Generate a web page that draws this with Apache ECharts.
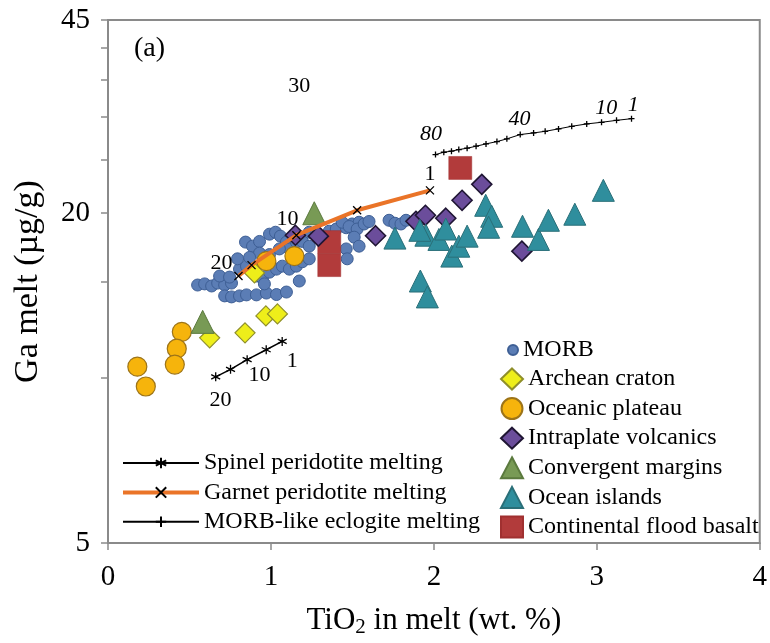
<!DOCTYPE html>
<html><head><meta charset="utf-8">
<script src="https://cdn.jsdelivr.net/npm/echarts@6/dist/echarts.min.js"></script>
<style>html,body{margin:0;padding:0;background:#fff}#c{width:770px;height:643px}</style>
</head><body><div id="c"></div>
<script>
const xTicks = [0, 1, 2, 3, 4];
const yTicks = [5, 10, 15, 20, 25, 30, 35, 40, 45];
const yLabels = [5, 20, 45];

const morb = [
  [0.550,14.78],[0.593,14.85],[0.636,14.72],[0.673,14.9],[0.716,14.78],[0.758,14.9],
  [0.685,15.35],[0.746,15.28],[0.716,14.12],[0.758,14.06],[0.807,14.12],[0.850,14.18],
  [0.911,14.18],[0.972,14.29],[1.034,14.2],[1.095,14.35],[0.844,17.7],[0.887,17.4],
  [0.930,17.75],[0.991,18.3],[1.028,18.45],[1.058,18.15],[1.095,17.7],[1.113,17.2],
  [1.156,17.7],[1.193,17.75],[1.235,17.4],[1.235,18.45],[1.278,18.45],[1.315,18.07],
  [1.358,18.53],[1.401,18.7],[0.807,15.8],[0.850,16.0],[0.911,15.35],[0.948,15.2],
  [0.991,15.6],[1.034,15.8],[1.070,16.0],[1.113,15.8],[1.156,16.0],[1.193,16.3],
  [1.235,16.5],[1.462,18.8],[1.498,19.1],[1.541,19.24],[1.437,19.24],[1.480,18.9],
  [1.529,18.7],[1.511,18.07],[1.541,17.4],[1.462,17.2],[1.468,16.5],[1.725,19.4],
  [1.761,19.16],[1.798,19.1],[1.829,19.4],[1.572,19.1],[1.602,19.3],[0.930,16.9],
  [0.991,16.8],[1.052,17.2],[0.960,14.85],[1.174,15.03],[0.795,16.5],[0.869,16.6]
];
const archean = [[0.899,15.55],[0.624,11.84],[0.841,12.09],[0.969,12.98],[1.040,13.09]];
const plateau = [[0.180,10.49],[0.232,9.65],[0.453,12.14],[0.422,11.31],[0.410,10.58],[0.972,16.34],[1.144,16.69]];
const intraplate = [[1.150,18.22],[1.291,18.15],[1.642,18.18],[1.890,19.32],[1.948,19.81],[2.073,19.57],[2.173,21.1],[2.294,22.56],[2.540,17.04]];
const convergent = [[1.266,19.98],[0.581,12.66]];
const oceanIslands = [
  [1.761,18.0],[1.917,15.03],[1.960,14.06],[1.951,18.22],[2.031,17.9],[2.073,18.7],
  [2.110,16.69],[2.153,17.4],[2.204,18.15],[2.318,20.66],[2.355,19.73],[2.336,18.84],
  [2.544,18.92],[2.642,17.9],[2.703,19.4],[2.865,19.9],[3.040,22.0],[1.914,18.6]
];
const cfb = [[1.358,17.7],[1.358,16.07],[2.162,24.17]];

const spinel = [[0.661,10.05],[0.752,10.37],[0.854,10.8],[0.971,11.26],[1.069,11.66]];
const garnet = [[0.801,15.35],[0.881,16.07],[1.156,18.22],[1.529,20.23],[1.976,22.0]];
const eclogite = [
  [2.010,25.57],[2.061,25.82],[2.108,25.93],[2.153,26.11],[2.204,26.26],[2.259,26.48],
  [2.320,26.74],[2.387,27.0],[2.448,27.31],[2.530,27.81],[2.612,28.0],[2.683,28.19],
  [2.765,28.48],[2.846,28.79],[2.938,29.08],[3.029,29.28],[3.121,29.52],[3.213,29.73]
];

const uprightNotes = [[0.691,9.1,'20'],[0.930,10.1,'10'],[1.131,10.75,'1'],
  [0.697,16.2,'20'],[1.101,19.5,'10'],[1.976,23.5,'1'],[1.174,34.1,'30']];
const italicNotes = [[1.982,27.8,'80'],[2.526,29.6,'40'],[3.058,31.1,'10'],[3.223,31.4,'1']];

const FONT = 'Liberation Serif';
const AX = '#8a8a8a';

function sc(name, data, symbol, size, color, border, bw) {
  return { name, type: 'scatter', data, symbol, symbolSize: size,
    itemStyle: { color, borderColor: border, borderWidth: bw, opacity: 1 },
    emphasis: { disabled: true } };
}
function ln(name, data, symbol, size, color, width) {
  return { name, type: 'line', data, symbol, symbolSize: size, showSymbol: true,
    lineStyle: { color, width }, itemStyle: { color: '#000', borderColor: '#000', borderWidth: 1.3 },
    emphasis: { disabled: true }, animation: false };
}
function notes(data, italic) {
  return { type: 'scatter', data, symbolSize: 0.1, itemStyle: { color: '#000' },
    silent: true, z: 5,
    label: { show: true, position: 'inside', formatter: p => p.data[2], color: '#000', opacity: 1,
      fontFamily: FONT, fontSize: 22, fontStyle: italic ? 'italic' : 'normal' } };
}

const ASTER = 'path://M5,0 L5,10 M0.7,2.5 L9.3,7.5 M0.7,7.5 L9.3,2.5';
const XS = 'path://M0,0 L10,10 M10,0 L0,10';
const PLUS = 'path://M5,0 L5,10 M0,5 L10,5';

const legendText = { fontFamily: FONT, fontSize: 24, color: '#000' };

const chart = echarts.init(document.getElementById('c'));
chart.setOption({
  animation: false,
  backgroundColor: '#fff',
  title: { text: '(a)', left: 129, top: 30, textStyle: { fontFamily: FONT, fontSize: 28, fontWeight: 'normal', color: '#000' } },
  grid: { left: 108, right: 8, top: 20, bottom: 98, show: true, borderColor: AX, borderWidth: 2, backgroundColor: 'transparent' },
  xAxis: { type: 'value', min: 0, max: 4, interval: 1,
    axisLine: { show: true, lineStyle: { color: AX, width: 2 } },
    axisTick: { show: true, length: 7, lineStyle: { color: AX, width: 1.5 } },
    axisLabel: { fontFamily: FONT, fontSize: 29, color: '#000', margin: 20, formatter: v => xTicks.includes(v) ? String(v) : '' },
    splitLine: { show: false },
    name: 'TiO{s|2} in melt (wt. %)', nameLocation: 'middle', nameGap: 60,
    nameTextStyle: { fontFamily: FONT, fontSize: 31, color: '#000', rich: { s: { fontFamily: FONT, fontSize: 21, padding: [14, 0, 0, 0], color: '#000' } } } },
  yAxis: { type: 'log', min: 5, max: 45,
    axisLine: { show: true, lineStyle: { color: AX, width: 2 } },
    axisTick: { show: true, length: 7, customValues: yTicks, lineStyle: { color: AX, width: 1.5 } },
    axisLabel: { customValues: yLabels, fontFamily: FONT, fontSize: 29, color: '#000', margin: 18 },
    splitLine: { show: false }, minorTick: { show: false },
    name: 'Ga melt (µg/g)', nameLocation: 'middle', nameGap: 63, nameRotate: 90,
    nameTextStyle: { fontFamily: FONT, fontSize: 34, color: '#000' } },
  legend: [
    { data: ['MORB'], orient: 'vertical', left: 502, top: 333, itemWidth: 10, itemHeight: 10,
      textStyle: legendText, selectedMode: false },
    { data: ['Archean craton', 'Oceanic plateau', 'Intraplate volcanics', 'Convergent margins', 'Ocean islands', 'Continental flood basalt'],
      orient: 'vertical', left: 495, top: 362, itemWidth: 22, itemHeight: 21, itemGap: 5.6,
      textStyle: legendText, selectedMode: false },
    { data: [
        { name: 'Spinel peridotite melting' },
        { name: 'Garnet peridotite melting', lineStyle: { width: 4, color: '#ea7428' } },
        { name: 'MORB-like eclogite melting' }],
      orient: 'vertical', left: 116, top: 446, itemWidth: 76, itemHeight: 13, itemGap: 5.4,
      textStyle: legendText, selectedMode: false }
  ],
  series: [
    sc('MORB', morb, 'circle', 12, '#5b7db5', '#3e5f95', 1),
    sc('Continental flood basalt', cfb, 'rect', 23, '#b23b3b', '#a03030', 0.5),
    sc('Archean craton', archean, 'diamond', 20, '#eeee1a', '#8f8f2a', 1.2),
    sc('Oceanic plateau', plateau, 'circle', 19, '#f6b40c', '#9d7418', 1.2),
    sc('Intraplate volcanics', intraplate, 'diamond', 20, '#6b4d9b', '#1f1533', 1.6),
    sc('Ocean islands', oceanIslands, 'triangle', 22, '#2f8e9d', '#2a6f78', 1),
    sc('Convergent margins', convergent, 'triangle', 23, '#789a55', '#5b7a3e', 1),
    ln('Spinel peridotite melting', spinel, ASTER, 9, '#000', 1.5),
    ln('Garnet peridotite melting', garnet, XS, 8, '#ea7428', 4),
    ln('MORB-like eclogite melting', eclogite, PLUS, 6, '#000', 1),
    notes(uprightNotes, false),
    notes(italicNotes, true)
  ]
});
</script></body></html>
